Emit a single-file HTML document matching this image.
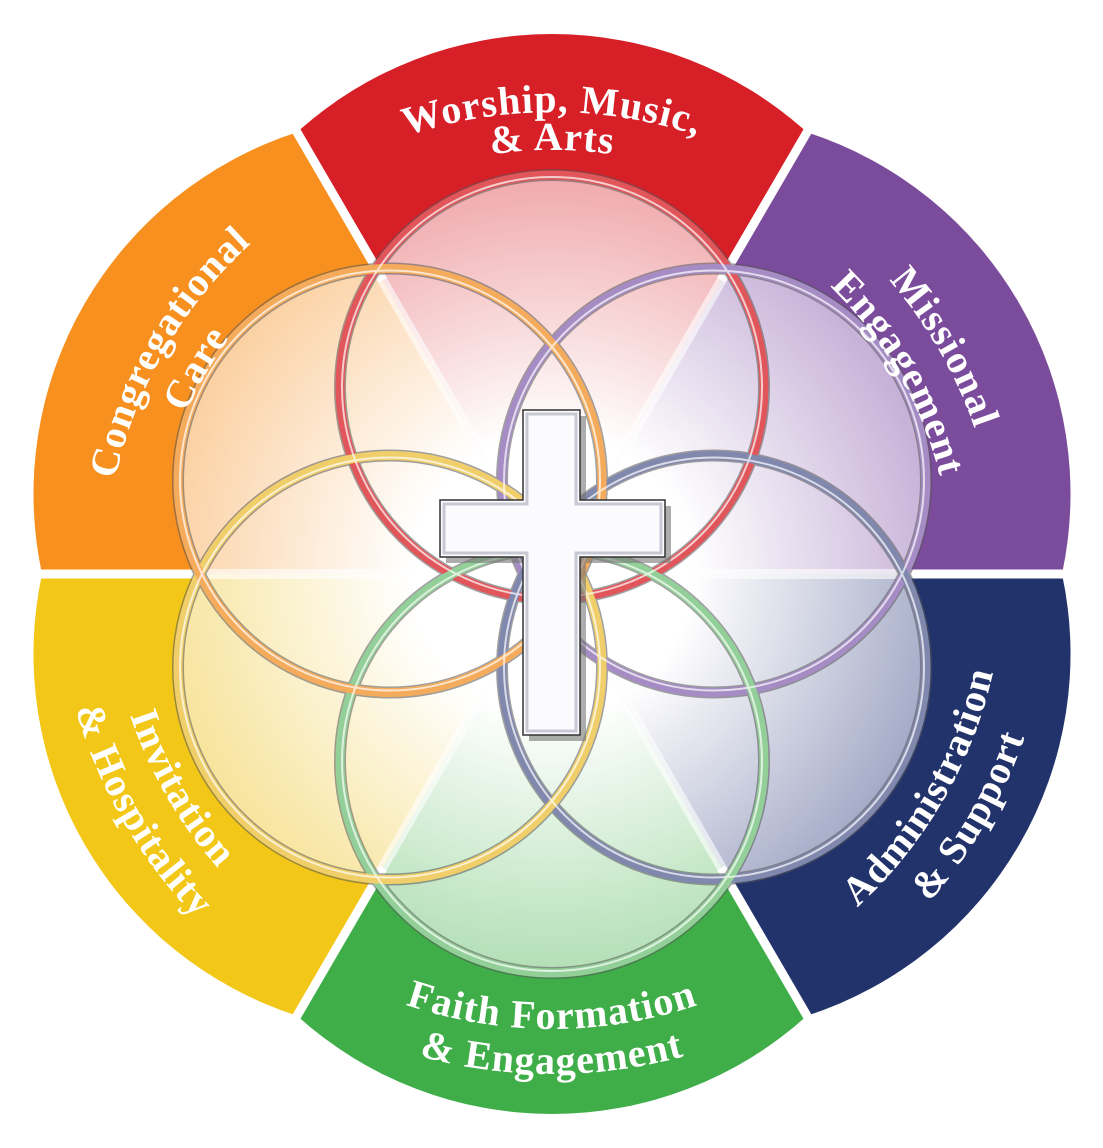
<!DOCTYPE html>
<html><head><meta charset="utf-8"><style>
html,body{margin:0;padding:0;background:#fff;}
svg{display:block}
text{font-family:"Liberation Serif",serif;font-weight:bold;fill:#fff;font-size:40px;letter-spacing:1px}
</style></head><body>
<svg width="1103" height="1148" viewBox="0 0 1103 1148" xmlns="http://www.w3.org/2000/svg">
<defs>
<clipPath id="uni">
<circle cx="552" cy="387" r="212"/><circle cx="714" cy="480.5" r="212"/><circle cx="714" cy="667.5" r="212"/>
<circle cx="552" cy="761" r="212"/><circle cx="390" cy="667.5" r="212"/><circle cx="390" cy="480.5" r="212"/>
</clipPath>
<radialGradient id="gR" gradientUnits="userSpaceOnUse" cx="552" cy="574" r="400"><stop offset="0.35" stop-color="#fff"/><stop offset="1" stop-color="#f0a9ac"/></radialGradient>
<radialGradient id="gP" gradientUnits="userSpaceOnUse" cx="552" cy="574" r="400"><stop offset="0.35" stop-color="#fff"/><stop offset="1" stop-color="#c4aed6"/></radialGradient>
<radialGradient id="gN" gradientUnits="userSpaceOnUse" cx="552" cy="574" r="400"><stop offset="0.35" stop-color="#fff"/><stop offset="1" stop-color="#a3a9c6"/></radialGradient>
<radialGradient id="gG" gradientUnits="userSpaceOnUse" cx="552" cy="574" r="400"><stop offset="0.35" stop-color="#fff"/><stop offset="1" stop-color="#b2dfb5"/></radialGradient>
<radialGradient id="gY" gradientUnits="userSpaceOnUse" cx="552" cy="574" r="400"><stop offset="0.35" stop-color="#fff"/><stop offset="1" stop-color="#f7e39a"/></radialGradient>
<radialGradient id="gO" gradientUnits="userSpaceOnUse" cx="552" cy="574" r="400"><stop offset="0.35" stop-color="#fff"/><stop offset="1" stop-color="#fbcf9f"/></radialGradient>
<path id="t1" d="M152,343 A462,462 0 0 1 952,343"/>
<path id="t2" d="M184.8,362 A424,424 0 0 1 919.2,362"/>
<path id="t3" d="M164.9,797.5 A447,447 0 0 1 552,127"/>
<path id="t4" d="M205.6,774 A400,400 0 0 1 552,174"/>
<path id="t5" d="M552,127 A447,447 0 0 1 939.1,797.5"/>
<path id="t6" d="M552,174 A400,400 0 0 1 898.4,774"/>
<path id="t7" d="M552,1026 A452,452 0 0 0 943.4,348"/>
<path id="t8" d="M552,1074 A500,500 0 0 0 985,324"/>
<path id="t9" d="M158,801.5 A455,455 0 0 0 946,801.5"/>
<path id="t10" d="M119,824 A500,500 0 0 0 985,824"/>
<path id="t11" d="M166.6,351.5 A445,445 0 0 0 552,1019"/>
<path id="t12" d="M123.3,326.5 A495,495 0 0 0 552,1069"/>
</defs>
<!-- sectors -->
<path d="M552,574 L297,132.3 A380,380 0 0 1 807,132.3 Z" fill="#d71f27"/>
<path d="M552,574 L807,132.3 A380,380 0 0 1 1062,574 Z" fill="#7b4b9c"/>
<path d="M552,574 L1062,574 A380,380 0 0 1 807,1015.7 Z" fill="#22336b"/>
<path d="M552,574 L807,1015.7 A380,380 0 0 1 297,1015.7 Z" fill="#3fae49"/>
<path d="M552,574 L297,1015.7 A380,380 0 0 1 42,574 Z" fill="#f2c718"/>
<path d="M552,574 L42,574 A380,380 0 0 1 297,132.3 Z" fill="#f7901e"/>
<!-- pale fill -->
<g clip-path="url(#uni)">
<path d="M552,574 L297,132.3 L807,132.3 Z" fill="url(#gR)"/>
<path d="M552,574 L807,132.3 L1062,574 Z" fill="url(#gP)"/>
<path d="M552,574 L1062,574 L807,1015.7 Z" fill="url(#gN)"/>
<path d="M552,574 L807,1015.7 L297,1015.7 Z" fill="url(#gG)"/>
<path d="M552,574 L297,1015.7 L42,574 Z" fill="url(#gY)"/>
<path d="M552,574 L42,574 L297,132.3 Z" fill="url(#gO)"/>
<g stroke="#fff" stroke-width="10" opacity="0.6">
<line x1="552" y1="574" x2="280" y2="103"/><line x1="552" y1="574" x2="824" y2="103"/>
<line x1="552" y1="574" x2="1090" y2="574"/><line x1="552" y1="574" x2="14" y2="574"/>
<line x1="552" y1="574" x2="280" y2="1045"/><line x1="552" y1="574" x2="824" y2="1045"/>
</g>
</g>
<!-- gaps outside -->
<g stroke="#fff" stroke-width="9">
<line x1="383" y1="280" x2="280" y2="103"/><line x1="721" y1="280" x2="824" y2="103"/>
<line x1="905" y1="574" x2="1090" y2="574"/><line x1="199" y1="574" x2="14" y2="574"/>
<line x1="383" y1="868" x2="280" y2="1045"/><line x1="721" y1="868" x2="824" y2="1045"/>
</g>
<!-- rings -->
<g fill="none">
<g stroke="#555" stroke-width="12" opacity="0.55">
<circle cx="552" cy="387" r="212"/><circle cx="714" cy="480.5" r="212"/><circle cx="714" cy="667.5" r="212"/>
<circle cx="552" cy="761" r="212"/><circle cx="390" cy="667.5" r="212"/><circle cx="390" cy="480.5" r="212"/>
</g>
<g stroke-width="9">
<circle cx="552" cy="387" r="212" stroke="#e0565a"/>
<circle cx="714" cy="480.5" r="212" stroke="#a58cc4"/>
<circle cx="714" cy="667.5" r="212" stroke="#8088ad"/>
<circle cx="552" cy="761" r="212" stroke="#93cf98"/>
<circle cx="390" cy="667.5" r="212" stroke="#f0cf6a"/>
<circle cx="390" cy="480.5" r="212" stroke="#f5ab5c"/>
</g>
<g stroke="#fff" stroke-width="2" opacity="0.7">
<circle cx="552" cy="387" r="210"/><circle cx="714" cy="480.5" r="210"/><circle cx="714" cy="667.5" r="210"/>
<circle cx="552" cy="761" r="210"/><circle cx="390" cy="667.5" r="210"/><circle cx="390" cy="480.5" r="210"/>
</g>
</g>
<!-- cross -->
<path d="M529,416 H586 V506 H671 V563 H586 V741 H529 V563 H446 V506 H529 Z" fill="#777" opacity="0.6"/>
<path d="M523,410 H580 V500 H665 V557 H580 V735 H523 V557 H440 V500 H523 Z" fill="#fbfbfd" stroke="#333" stroke-width="1.5"/>
<path d="M527,414 H576 V504 H661 V553 H576 V731 H527 V553 H444 V504 H527 Z" fill="none" stroke="#c8c8d4" stroke-width="3"/>
<!-- labels -->
<text><textPath href="#t1" startOffset="50%" text-anchor="middle">Worship, Music,</textPath></text>
<text><textPath href="#t2" startOffset="50%" text-anchor="middle">&amp; Arts</textPath></text>
<text><textPath href="#t3" startOffset="50%" text-anchor="middle">Congregational</textPath></text>
<text><textPath href="#t4" startOffset="50%" text-anchor="middle">Care</textPath></text>
<text><textPath href="#t5" startOffset="50%" text-anchor="middle">Missional</textPath></text>
<text><textPath href="#t6" startOffset="50%" text-anchor="middle">Engagement</textPath></text>
<text><textPath href="#t7" startOffset="50%" text-anchor="middle">Administration</textPath></text>
<text><textPath href="#t8" startOffset="50%" text-anchor="middle">&amp; Support</textPath></text>
<text><textPath href="#t9" startOffset="50%" text-anchor="middle">Faith Formation</textPath></text>
<text><textPath href="#t10" startOffset="50%" text-anchor="middle">&amp; Engagement</textPath></text>
<text><textPath href="#t11" startOffset="50%" text-anchor="middle">Invitation</textPath></text>
<text><textPath href="#t12" startOffset="50%" text-anchor="middle">&amp; Hospitality</textPath></text>
</svg>
</body></html>
